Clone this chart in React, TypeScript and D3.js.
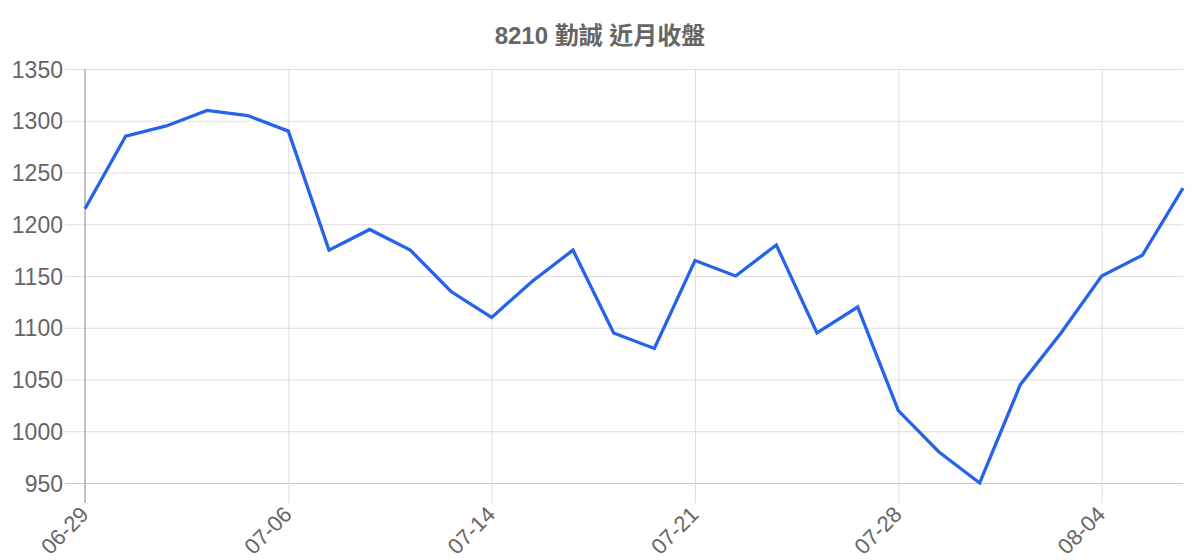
import { useEffect, useRef } from 'react';
import * as d3 from 'd3';

// ─── Data ───────────────────────────────────────────────────

const TITLE = '8210 勤誠 近月收盤';

const dates = [
  '06-29', '06-30', '07-01', '07-02', '07-03',
  '07-06', '07-07', '07-08', '07-09', '07-10',
  '07-14', '07-15', '07-16', '07-17', '07-20',
  '07-21', '07-22', '07-23', '07-24', '07-27',
  '07-28', '07-29', '07-30', '07-31', '08-03',
  '08-04', '08-05', '08-06',
];

const closes = [
  1215, 1285, 1295, 1310, 1305,
  1290, 1175, 1195, 1175, 1135,
  1110, 1145, 1175, 1095, 1080,
  1165, 1150, 1180, 1095, 1120,
  1020, 980, 950, 1045, 1095,
  1150, 1170, 1235,
];

const yTicks = [950, 1000, 1050, 1100, 1150, 1200, 1250, 1300, 1350];

// every 5th trading day gets a label
const xTickDates = dates.filter((_, i) => i % 5 === 0);

// ─── Constants ──────────────────────────────────────────────

const W = 1200;
const H = 560;
const margin = { top: 69, right: 17, bottom: 77, left: 85 };
const FONT = '"Liberation Sans", Arial, sans-serif';
const TEXT = '#666666';
const GRID = '#dedede';
const LINE = '#2563eb';

export default function App() {
  const svgRef = useRef<SVGSVGElement>(null);

  useEffect(() => {
    if (!svgRef.current) return;
    const svg = d3.select(svgRef.current);
    svg.selectAll('*').remove();

    const innerW = W - margin.left - margin.right;
    const innerH = H - margin.top - margin.bottom;

    const x = d3.scalePoint<string>().domain(dates).range([0, innerW]);
    const y = d3.scaleLinear().domain([950, 1350]).range([innerH, 0]);

    // Title
    svg.append('text')
      .attr('x', W / 2).attr('y', 44)
      .attr('text-anchor', 'middle')
      .attr('font-family', `${FONT}, "Noto Sans CJK TC"`)
      .attr('font-size', '24px')
      .attr('font-weight', 'bold')
      .attr('fill', TEXT)
      .text(TITLE);

    const g = svg.append('g')
      .attr('transform', `translate(${margin.left},${margin.top})`);

    // Horizontal grid (with tick stubs to the left)
    g.append('g')
      .call(d3.axisLeft(y).tickValues(yTicks).tickFormat(d3.format('d')).tickSize(-innerW).tickSizeOuter(0))
      .call((sel) => sel.select('.domain').remove())
      .call((sel) => sel.selectAll('.tick line')
        .attr('x1', -20)
        .attr('stroke', (d) => (d === 950 ? '#c8c8c8' : GRID)))
      .call((sel) => sel.selectAll('text')
        .attr('font-family', FONT)
        .attr('font-size', '23px')
        .attr('fill', TEXT)
        .attr('x', -22)
        .attr('dy', '0.35em'));

    // Vertical grid (every 5th day) with ticks below
    const xAxis = g.append('g')
      .attr('transform', `translate(0,${innerH})`)
      .call(d3.axisBottom(x).tickValues(xTickDates).tickSize(-innerH).tickSizeOuter(0))
      .call((sel) => sel.select('.domain').remove());
    xAxis.selectAll('.tick line')
      .attr('y1', 20)
      .attr('stroke', GRID);
    xAxis.selectAll('text')
      .attr('font-family', FONT)
      .attr('font-size', '22px')
      .attr('fill', TEXT)
      .attr('text-anchor', 'end')
      .attr('dy', '0.35em')
      .attr('y', 0)
      .attr('transform', 'translate(-1,27.5) rotate(-45)');

    // Left axis line
    g.append('line')
      .attr('x1', 0).attr('x2', 0)
      .attr('y1', 0).attr('y2', innerH + 20)
      .attr('stroke', '#b0b0b0')
      .attr('stroke-width', 1.5);

    // Close price line
    const line = d3.line<number>()
      .x((_, i) => x(dates[i]) as number)
      .y((d) => y(d));

    g.append('path')
      .datum(closes)
      .attr('fill', 'none')
      .attr('stroke', LINE)
      .attr('stroke-width', 3.3)
      .attr('stroke-linejoin', 'miter')
      .attr('d', line);
  }, []);

  return (
    <div style={{ position: 'absolute', left: 0, top: 0, width: W, height: H, background: '#fff' }}>
      <svg ref={svgRef} width={W} height={H} style={{ display: 'block' }} />
    </div>
  );
}
